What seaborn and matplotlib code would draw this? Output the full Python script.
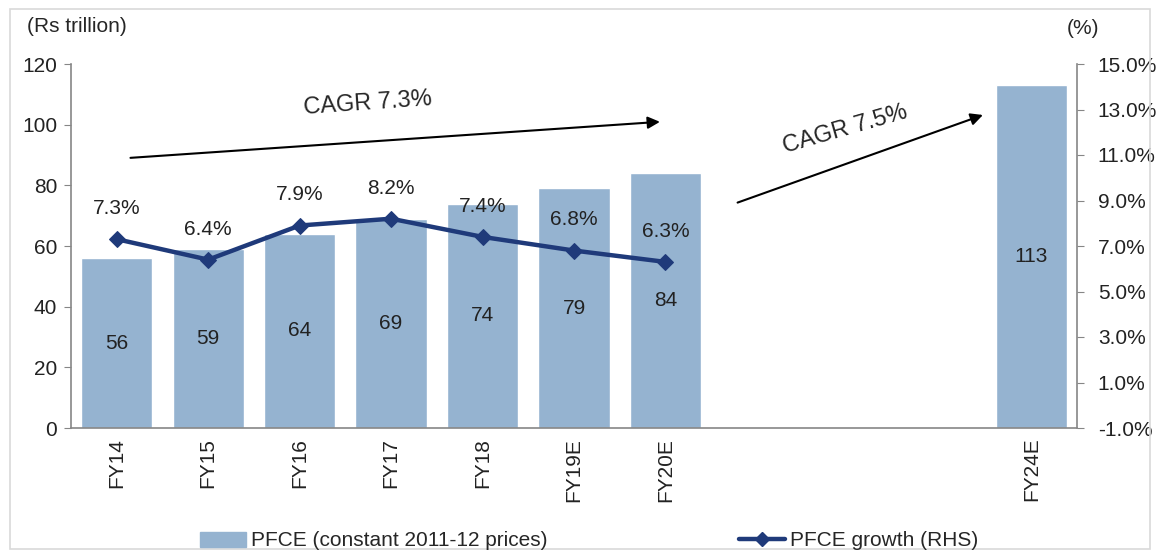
import numpy as np
import pandas as pd
import matplotlib
matplotlib.use("Agg")
import matplotlib.pyplot as plt
from matplotlib.patches import Rectangle
from matplotlib.lines import Line2D
import seaborn as sns

# data
years = ["FY14", "FY15", "FY16", "FY17", "FY18", "FY19E", "FY20E", " ", "  ", "   ", "FY24E"]
pfce = [56, 59, 64, 69, 74, 79, 84, np.nan, np.nan, np.nan, 113]
growth_years = ["FY14", "FY15", "FY16", "FY17", "FY18", "FY19E", "FY20E"]
growth = [7.3, 6.4, 7.9, 8.2, 7.4, 6.8, 6.3]
left_ticks = [0, 20, 40, 60, 80, 100, 120]
right_ticks = [-1.0, 1.0, 3.0, 5.0, 7.0, 9.0, 11.0, 13.0, 15.0]

bar_col = "#95B3D0"
line_col = "#1F3A7A"
axis_col = "#868686"
txt_col = "#222222"

sns.set_style("white")
plt.rcParams['font.family'] = ['Liberation Sans', 'DejaVu Sans']
plt.rcParams['font.size'] = 15

df = pd.DataFrame({"year": years, "pfce": pfce})

fig = plt.figure(figsize=(11.61, 5.57), dpi=100)
ax = fig.add_axes([71 / 1161, 1 - 428 / 557, (1077 - 71) / 1161, (428 - 64) / 557])

sns.barplot(data=df, x="year", y="pfce", order=years, color=bar_col,
            saturation=1, width=0.78, ax=ax)
for c in ax.containers:
    labs = ["" if np.isnan(v) else f"{v:.0f}" for v in c.datavalues]
    ax.bar_label(c, labels=labs, label_type="center", fontsize=15, color=txt_col)

ax.set_ylim(0, 120)
ax.set_yticks(left_ticks)
ax.set_xlim(-0.5, len(years) - 0.5)
ax.set_xlabel("")
ax.set_ylabel("")
ax.set_xticks(range(len(years)))
ax.set_xticklabels(years, rotation=90)
ax.set_xticks(np.arange(-0.5, len(years)), minor=True)
ax.tick_params(axis="x", which="major", length=0, pad=7, colors=txt_col)
ax.tick_params(axis="x", which="minor", length=5, color=axis_col, direction="out")
ax.tick_params(axis="y", length=5, color=axis_col, direction="out", colors=txt_col, pad=5)
for s in ["top", "right"]:
    ax.spines[s].set_visible(False)
for s in ["left", "bottom"]:
    ax.spines[s].set_color(axis_col)
    ax.spines[s].set_linewidth(1.2)

ax2 = ax.twinx()
pos = [years.index(y) for y in growth_years]
sns.lineplot(x=pos, y=growth, ax=ax2, color=line_col, linewidth=3.2,
             marker="D", markersize=8, markeredgecolor=line_col)
for x, g in zip(pos, growth):
    ax2.annotate(f"{g:.1f}%", (x, g), xytext=(0, 22), textcoords="offset points",
                 ha="center", va="center", fontsize=15, color=txt_col)
ax2.set_ylim(-1, 15)
ax2.set_yticks(right_ticks)
ax2.set_yticklabels([f"{v:.1f}%" for v in right_ticks])
ax2.tick_params(axis="y", length=5, color=axis_col, direction="out", colors=txt_col, pad=10)
for s in ["top", "left", "bottom"]:
    ax2.spines[s].set_visible(False)
ax2.spines["right"].set_color(axis_col)
ax2.spines["right"].set_linewidth(1.2)
ax2.set_xlim(-0.5, len(years) - 0.5)

# CAGR arrows (in left-axis data units)
ax.annotate("", xy=(5.97, 101), xytext=(0.12, 89),
            arrowprops=dict(arrowstyle="-|>", color="black", lw=1.5, mutation_scale=18))
ax.text(2.75, 107, "CAGR 7.3%", ha="center", va="center", rotation=4, fontsize=17)
ax.annotate("", xy=(9.5, 103.5), xytext=(6.76, 74),
            arrowprops=dict(arrowstyle="-|>", color="black", lw=1.5, mutation_scale=18))
ax.text(7.97, 98.5, "CAGR 7.5%", ha="center", va="center", rotation=16, fontsize=17)

fig.text(27 / 1161, 1 - 27 / 557, "(Rs trillion)", ha="left", va="center", fontsize=15)
fig.text(1083 / 1161, 1 - 28 / 557, "(%)", ha="center", va="center", fontsize=15)

handles = [Rectangle((0, 0), 1, 1, color=bar_col),
           Line2D([0], [0], color=line_col, lw=3.2, marker="D", markersize=7)]
fig.legend(handles, ["PFCE (constant 2011-12 prices)", "PFCE growth (RHS)"],
           loc="center left", bbox_to_anchor=(181 / 1161, 1 - 541 / 557), ncol=2, frameon=False,
           columnspacing=9.2, handlelength=2.2, handletextpad=0.25, fontsize=15)

fig.add_artist(Rectangle((10 / 1161, 8 / 557), 1140 / 1161, 540 / 557,
                         transform=fig.transFigure, fill=False,
                         edgecolor="#D9D9D9", lw=1.2))

fig.savefig("out.png", dpi=100)
